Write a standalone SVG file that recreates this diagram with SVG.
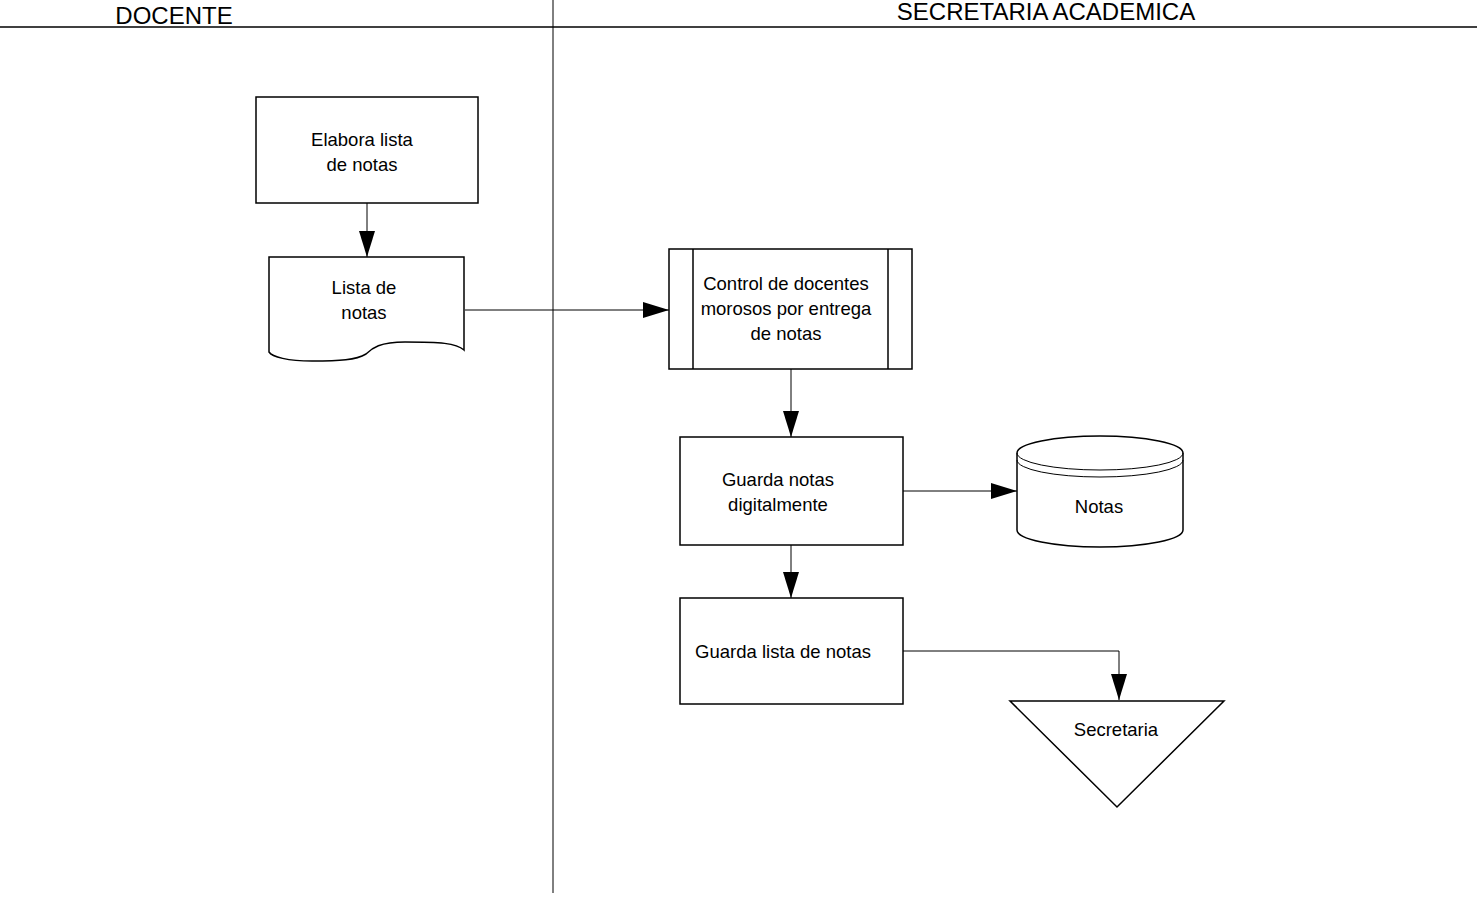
<svg xmlns="http://www.w3.org/2000/svg" width="1477" height="897" viewBox="0 0 1477 897">
<style>
.s{fill:#fff;stroke:#000;stroke-width:1.5}
.t{font-family:"Liberation Sans",Arial,sans-serif;font-size:18.5px;fill:#000;text-anchor:middle}
.h{font-family:"Liberation Sans",Arial,sans-serif;font-size:24px;fill:#000;text-anchor:middle}
.c{fill:none;stroke:#000;stroke-width:1}
</style>
<defs>
<marker id="a" markerWidth="26" markerHeight="16" refX="26" refY="8" orient="auto" markerUnits="userSpaceOnUse" viewBox="0 0 26 16">
<path d="M0,0 L26,8 L0,16 Z" fill="#000"/>
</marker>
</defs>
<g id="lanes">
<line x1="0" y1="27" x2="1477" y2="27" stroke="#000" stroke-width="1.6"/>
<line x1="553" y1="0" x2="553" y2="893" stroke="#000" stroke-width="1"/>
<text class="h" x="174" y="24">DOCENTE</text>
<text class="h" x="1046" y="20">SECRETARIA ACADEMICA</text>
</g>
<g id="connectors">
<path class="c" d="M367,203 V257" marker-end="url(#a)"/>
<path class="c" d="M465,310 H669" marker-end="url(#a)"/>
<path class="c" d="M791,369 V437" marker-end="url(#a)"/>
<path class="c" d="M903,491 H1017" marker-end="url(#a)"/>
<path class="c" d="M791,545 V598" marker-end="url(#a)"/>
<path class="c" d="M903,651 H1119 V700" marker-end="url(#a)"/>
</g>
<g id="n1">
<rect class="s" x="256" y="97" width="222" height="106"/>
<text class="t" x="362" y="146">Elabora lista</text>
<text class="t" x="362" y="171">de notas</text>
</g>
<g id="n2">
<path class="s" d="M269,257 H464 V350 C456,343 440,342 405,342 C380,342 372,348 366,354 C356,360 340,361 312,361 C288,361 272,357 269,352 Z"/>
<text class="t" x="364" y="294">Lista de</text>
<text class="t" x="364" y="319">notas</text>
</g>
<g id="n3">
<rect class="s" x="669" y="249" width="243" height="120"/>
<line x1="693" y1="249" x2="693" y2="369" stroke="#000" stroke-width="1.5"/>
<line x1="888" y1="249" x2="888" y2="369" stroke="#000" stroke-width="1.5"/>
<text class="t" x="786" y="290">Control de docentes</text>
<text class="t" x="786" y="315">morosos por entrega</text>
<text class="t" x="786" y="340">de notas</text>
</g>
<g id="n4">
<rect class="s" x="680" y="437" width="223" height="108"/>
<text class="t" x="778" y="486">Guarda notas</text>
<text class="t" x="778" y="511">digitalmente</text>
</g>
<g id="n5">
<path class="s" d="M1017,453 V530 A83,17 0 0 0 1183,530 V453 A83,17 0 0 0 1017,453 Z"/>
<path class="c" d="M1017,453 A83,17 0 0 0 1183,453" stroke-width="1.5"/>
<path class="c" d="M1017,460 A83,17 0 0 0 1183,460" stroke-width="1.5"/>
<text class="t" x="1099" y="513">Notas</text>
</g>
<g id="n6">
<rect class="s" x="680" y="598" width="223" height="106"/>
<text class="t" x="783" y="658">Guarda lista de notas</text>
</g>
<g id="n7">
<path class="s" d="M1010,701 H1224 L1117,807 Z"/>
<text class="t" x="1116" y="736">Secretaria</text>
</g>
</svg>
